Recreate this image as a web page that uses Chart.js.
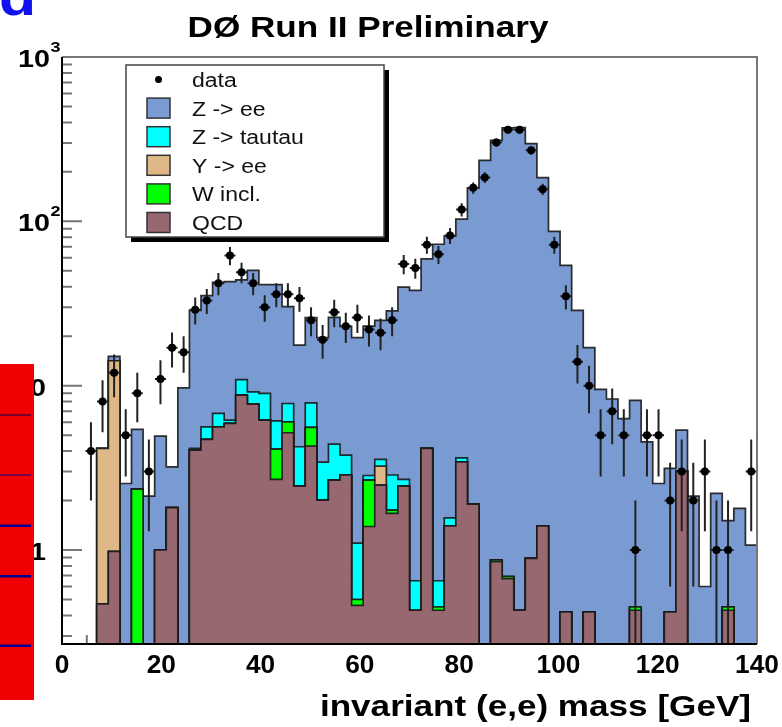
<!DOCTYPE html>
<html>
<head>
<meta charset="utf-8">
<title>DØ Run II Preliminary - invariant (e,e) mass</title>
<script src="https://cdn.jsdelivr.net/npm/chart.js@4.4.1/dist/chart.umd.min.js"></script>
<style>
  html, body { margin: 0; padding: 0; background: #fff; }
  canvas { display: block; }
</style>
</head>
<body>
<canvas id="massChart" width="782" height="727"></canvas>
<script>
// histogram binning: 60 bins between 0 and 140 GeV
const massLow = 0, massHigh = 140, nBins = 60;
const massEdges = Array.from({length: nBins + 1}, (_, i) => massLow + i * (massHigh - massLow) / nBins);

// data counts per bin and their errors
const dataCounts = [0, 0, 4, 8, 12, 5, 9, 3, 11, 17,
  16, 29, 33, 42, 62, 49, 42, 30, 36, 36,
  34, 25, 19, 28, 23, 26, 22, 21, 25, 55,
  52, 72, 63, 82, 118, 160, 185, 302, 361, 361,
  271, 157, 72, 35, 14, 10, 5, 7, 5, 1,
  5, 5, 2, 3, 2, 3, 1, 1, 0, 3];
const dataErr = [0, 0, 2, 2.8, 3.5, 2.2, 3, 1.7, 3.3, 4.1,
  4, 5.4, 5.7, 6.5, 7.9, 7, 6.5, 5.5, 6, 6,
  5.8, 5, 4.4, 5.3, 4.8, 5.1, 4.7, 4.6, 5, 7.4,
  7.2, 8.5, 7.9, 9.1, 10.9, 12.6, 13.6, 17.4, 19, 19,
  16.5, 12.5, 8.5, 5.9, 3.7, 3.2, 2.2, 2.6, 2.2, 1,
  2.2, 2.2, 1.4, 1.7, 1.4, 1.7, 1, 1, 0, 1.7];

// simulated contributions per bin (stacked bottom to top: QCD, W, Y, Z->tautau, Z->ee)
const qcd = [0, 0, 0, 0.47, 0.98, 0, 0, 0, 1.0, 1.81,
  0, 4.05, 4.71, 5.62, 5.89, 8.76, 7.72, 6.17, 2.69, 5.17,
  2.45, 4.29, 2.01, 2.66, 2.86, 0.46, 1.39, 2.48, 1.67, 2.45,
  0.43, 4.15, 0.43, 1.40, 3.44, 1.90, 0, 0.85, 0.67, 0.43,
  0.89, 1.40, 0, 0.42, 0, 0.42, 0, 0, 0, 0.43,
  0, 0, 0.42, 3.03, 0, 0, 0, 0.43, 0, 0];
const wIncl = [0, 0, 0, 0, 0, 0, 2.35, 0, 0, 0,
  0, 0, 0, 0, 0, 0, 0, 0, 1.42, 0.86,
  0, 1.28, 0, 0, 0, 0.04, 1.27, 0, 0.08, 0,
  0, 0, 0.02, 0, 0, 0, 0, 0.02, 0.02, 0,
  0, 0, 0, 0, 0, 0, 0, 0, 0, 0.02,
  0, 0, 0, 0, 0, 0, 0, 0.02, 0, 0];
const upsilonEE = [0, 0, 0, 3.68, 13.2, 0, 0, 0, 0, 0,
  0, 0, 0, 0, 0, 0, 0, 0, 0, 0,
  0, 0, 0, 0, 0, 0, 0, 0.76, 0, 0,
  0, 0, 0, 0, 0, 0, 0, 0, 0, 0,
  0, 0, 0, 0, 0, 0, 0, 0, 0, 0,
  0, 0, 0, 0, 0, 0, 0, 0, 0, 0];
const zTauTau = [0, 0, 0, 0, 0, 0, 0, 0, 0, 0,
  0, 0.10, 0.91, 1.16, 0.28, 2.14, 1.45, 2.80, 2.00, 1.76,
  1.80, 2.29, 1.42, 1.75, 0.92, 0.60, 0.18, 0.32, 1.11, 0.24,
  0.22, 0, 0.20, 0.17, 0.20, 0, 0, 0, 0, 0,
  0, 0, 0, 0, 0, 0, 0, 0, 0, 0,
  0, 0, 0, 0, 0, 0, 0, 0, 0, 0];
const zEE = [0, 0, 0, 0, 0.9, 2.54, 3.07, 2.13, 3.93, 1.40,
  9.7, 24.6, 29.7, 35.7, 36.8, 33.1, 41.2, 32.2, 35.1, 22.5,
  13.4, 18.1, 16.2, 21.6, 19.2, 18.5, 20.2, 21.4, 25.7, 37.1,
  37.4, 54.9, 71.9, 80, 99.4, 158, 235, 310, 370, 371,
  296, 183, 87, 53.6, 28.7, 16.6, 9.5, 8.3, 6.3, 7.7,
  4.55, 2.54, 2.72, 2.33, 2.13, 0.6, 2.21, 1.06, 1.79, 1.07];

const xTickValues = [0, 20, 40, 60, 80, 100, 120, 140];
const yTickValues = [1, 10, 100, 1000];
const yTickBase = ['1', '10', '10', '10'];
const yTickExp = ['', '', '2', '3'];

const FONT = '"Liberation Sans", Arial, Helvetica, sans-serif';
const FLOOR = 0.05; // empty bins sit below the axis minimum
const outline = 'rgba(25,25,25,0.9)';

// stack the contributions
const layerValues = [qcd, wIncl, upsilonEE, zTauTau, zEE];
let running = new Array(nBins).fill(0);
const stacked = layerValues.map(arr => {
  running = running.map((v, i) => v + arr[i]);
  return running.slice();
});

function stepPoints(cum) {
  const pts = cum.map((v, i) => ({x: massEdges[i], y: v > 0 ? v : FLOOR}));
  pts.push({x: massEdges[nBins], y: pts[nBins - 1].y});
  return pts;
}

const dataPoints = [];
dataCounts.forEach((n, i) => {
  if (n > 0) dataPoints.push({x: (massEdges[i] + massEdges[i + 1]) / 2, y: n, err: dataErr[i]});
});

function histSet(label, cum, color, order) {
  return {
    type: 'line', label: label, data: stepPoints(cum), stepped: 'before',
    fill: 'start', backgroundColor: color, borderColor: outline, borderWidth: 1.7,
    pointRadius: 0, pointHoverRadius: 0, order: order
  };
}

function stretchText(ctx, text, x, y, font, align, sx) {
  ctx.save();
  ctx.font = font;
  const w = ctx.measureText(text).width * sx;
  let x0 = x;
  if (align === 'center') x0 = x - w / 2;
  else if (align === 'right') x0 = x - w;
  ctx.translate(x0, y);
  ctx.scale(sx, 1);
  ctx.textAlign = 'left';
  ctx.textBaseline = 'alphabetic';
  ctx.fillText(text, 0, 0);
  ctx.restore();
  return w;
}

const rootStyle = {
  id: 'rootStyle',
  beforeDraw(chart) {
    const ctx = chart.ctx;
    ctx.save();
    ctx.fillStyle = '#fff';
    ctx.fillRect(0, 0, chart.width, chart.height);
    ctx.restore();
  },
  beforeDatasetsDraw(chart) {
    const {ctx, chartArea: a, scales: {x, y}} = chart;
    ctx.save();
    ctx.strokeStyle = '#777';
    ctx.lineWidth = 2;
    ctx.beginPath();
    for (let d = -1; d <= 3; d++) {
      for (let k = 1; k <= 9; k++) {
        const v = k * Math.pow(10, d);
        if (v < y.min || v > y.max) continue;
        const py = y.getPixelForValue(v);
        ctx.moveTo(a.left, py);
        ctx.lineTo(a.left + (k === 1 ? 20 : 10), py);
      }
    }
    for (let m = massLow; m <= massHigh; m += 5) {
      const px = x.getPixelForValue(m);
      ctx.moveTo(px, a.bottom);
      ctx.lineTo(px, a.bottom - (m % 20 === 0 ? 17 : 9));
    }
    ctx.stroke();
    ctx.restore();
  },
  beforeDatasetDraw(chart, args) {
    if (args.index !== 0) return;
    const {ctx, chartArea: a, scales: {y}} = chart;
    const pts = chart.data.datasets[0].data;
    ctx.save();
    ctx.strokeStyle = '#222';
    ctx.lineWidth = 2;
    ctx.beginPath();
    args.meta.data.forEach((el, i) => {
      const p = pts[i];
      const top = y.getPixelForValue(p.y + p.err);
      const lo = p.y - p.err;
      const bot = lo > y.min ? y.getPixelForValue(lo) : a.bottom;
      ctx.moveTo(el.x, top);
      ctx.lineTo(el.x, bot);
      ctx.moveTo(el.x - 5.5, el.y);
      ctx.lineTo(el.x + 5.5, el.y);
    });
    ctx.stroke();
    ctx.restore();
  },
  afterDraw(chart) {
    const {ctx, chartArea: a, scales: {x, y}} = chart;
    ctx.save();
    // frame
    ctx.lineWidth = 2;
    ctx.strokeStyle = '#777';
    ctx.beginPath();
    ctx.moveTo(a.left, a.top); ctx.lineTo(a.right, a.top); ctx.lineTo(a.right, a.bottom);
    ctx.stroke();
    ctx.strokeStyle = '#000';
    ctx.beginPath();
    ctx.moveTo(a.left, a.top); ctx.lineTo(a.left, a.bottom); ctx.lineTo(a.right, a.bottom);
    ctx.stroke();

    ctx.fillStyle = '#000';
    // x tick labels
    xTickValues.forEach(v => {
      stretchText(ctx, String(v), x.getPixelForValue(v), 673, 'bold 25px ' + FONT, 'center', 1.05);
    });
    // y tick labels
    yTickValues.forEach((v, i) => {
      const py = y.getPixelForValue(v);
      if (yTickExp[i]) {
        stretchText(ctx, yTickBase[i], 50, py + 10, 'bold 23px ' + FONT, 'right', 1.25);
        stretchText(ctx, yTickExp[i], 50.5, py - 5, 'bold 15px ' + FONT, 'left', 1.2);
      } else {
        stretchText(ctx, yTickBase[i], 46, py + 10, 'bold 23px ' + FONT, 'right', 1.25);
      }
    });

    // titles
    stretchText(ctx, 'DØ Run II Preliminary', 368, 37, 'bold 30px ' + FONT, 'center', 1.17);
    stretchText(ctx, 'invariant (e,e) mass [GeV]', 751, 716, 'bold 30px ' + FONT, 'right', 1.17);

    // legend box with shadow
    ctx.fillStyle = '#000';
    ctx.fillRect(131, 70, 258, 172);
    ctx.fillStyle = '#fff';
    ctx.fillRect(126, 65, 258, 172);
    ctx.strokeStyle = '#444';
    ctx.lineWidth = 1.5;
    ctx.strokeRect(126, 65, 258, 172);
    const ds = chart.data.datasets;
    const legendOrder = [0, 5, 4, 3, 2, 1];
    legendOrder.forEach((di, r) => {
      const cy = 79.5 + r * 28.6;
      if (di === 0) {
        ctx.fillStyle = '#000';
        ctx.beginPath();
        ctx.arc(158.5, cy, 3.5, 0, Math.PI * 2);
        ctx.fill();
      } else {
        ctx.fillStyle = ds[di].backgroundColor;
        ctx.fillRect(147, cy - 10, 23, 20);
        ctx.strokeStyle = '#333';
        ctx.lineWidth = 1.5;
        ctx.strokeRect(147, cy - 10, 23, 20);
      }
      ctx.fillStyle = '#111';
      stretchText(ctx, ds[di].label, 192, cy + 7.5, '20px ' + FONT, 'left', 1.15);
    });

    // leftovers of the surrounding slide
    ctx.fillStyle = '#f00000';
    ctx.fillRect(0, 364, 34, 336);
    ctx.fillStyle = '#000060';
    ctx.fillRect(0, 414.5, 31, 1);
    ctx.fillStyle = '#000090';
    ctx.fillRect(0, 474.5, 31, 1);
    ctx.fillRect(0, 524.5, 31, 2.5);
    ctx.fillRect(0, 575, 31, 2.5);
    ctx.fillRect(0, 644.5, 31, 2.5);
    ctx.fillStyle = '#1010f0';
    stretchText(ctx, 'd', -1, 15, 'bold 52px ' + FONT, 'left', 1.17);
    ctx.restore();
  }
};

new Chart(document.getElementById('massChart').getContext('2d'), {
  type: 'line',
  data: {
    datasets: [
      {
        type: 'scatter', label: 'data', data: dataPoints, showLine: false,
        pointRadius: 4, pointHoverRadius: 4, pointBackgroundColor: '#000',
        pointBorderWidth: 0, order: 0
      },
      histSet('QCD', stacked[0], '#976870', 1),
      histSet('W incl.', stacked[1], '#00ff00', 2),
      histSet('Y -> ee', stacked[2], '#deb887', 3),
      histSet('Z -> tautau', stacked[3], '#00ffff', 4),
      histSet('Z -> ee', stacked[4], '#7a9ad2', 5)
    ]
  },
  options: {
    responsive: false,
    animation: false,
    events: [],
    layout: { padding: { left: 62, right: 25, top: 57, bottom: 83 } },
    plugins: {
      legend: { display: false },
      tooltip: { enabled: false },
      title: { display: false }
    },
    scales: {
      x: { type: 'linear', min: massLow, max: massHigh, display: false, bounds: 'data' },
      y: { type: 'logarithmic', min: 0.268, max: 1000, display: false, bounds: 'data' }
    }
  },
  plugins: [rootStyle]
});
</script>
</body>
</html>
